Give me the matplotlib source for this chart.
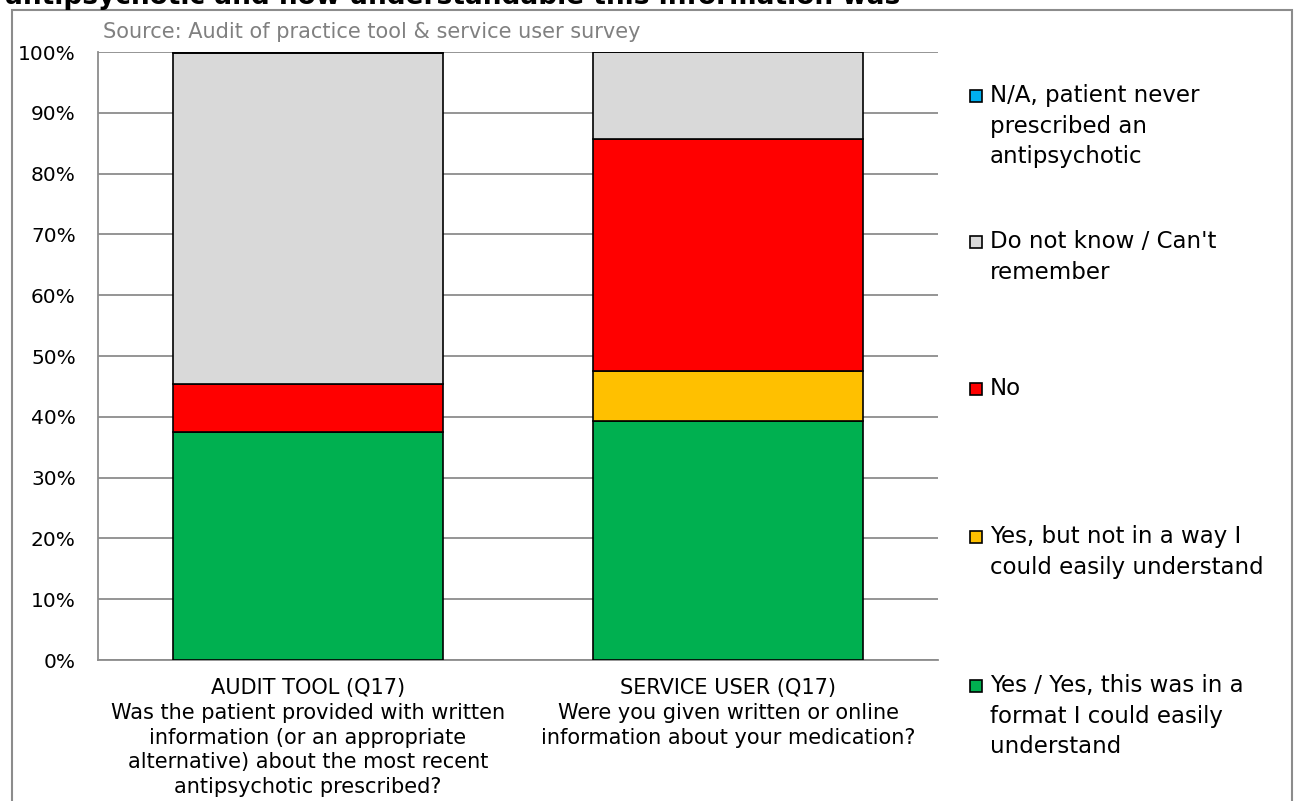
import matplotlib.pyplot as plt
import matplotlib.patches as pat
import numpy as np

# categories and series (percent of responses)
categories = ["AUDIT TOOL (Q17)\nWas the patient provided with written\ninformation (or an appropriate\nalternative) about the most recent\nantipsychotic prescribed?",
              "SERVICE USER (Q17)\nWere you given written or online\ninformation about your medication?"]
series_names = ["Yes / Yes, this was in a\nformat I could easily\nunderstand",
                "Yes, but not in a way I\ncould easily understand",
                "No",
                "Do not know / Can't\nremember",
                "N/A, patient never\nprescribed an\nantipsychotic"]
yes_vals = [37.5, 39.3]
yes_but_vals = [0.0, 8.3]
no_vals = [7.9, 38.1]
dont_know_vals = [54.4, 14.3]
na_vals = [0.2, 0.0]
colours = ["#00B050", "#FFC000", "#FF0000", "#D9D9D9", "#00B0F0"]
yticks = np.arange(0, 101, 10)

W, H = 1298, 801
fig = plt.figure(figsize=(W / 100, H / 100), dpi=100)

# outer chart frame (bottom runs off the picture)
fig.patches.append(pat.Rectangle((12 / W, -0.05), (1292 - 12) / W, 1.05 - 10 / H,
                                 transform=fig.transFigure, fill=False,
                                 edgecolor="#8c8c8c", linewidth=1.5))

# title, cut off at top like the original
fig.text(5 / W, 1 - 4 / H, "antipsychotic and how understandable this information was",
         fontsize=19, fontweight="bold", ha="left", va="baseline")

ax = fig.add_axes([98 / W, 1 - 660 / H, (938 - 98) / W, (660 - 52) / H])
x = np.arange(len(categories))
bottom = np.zeros(len(categories))
all_vals = [yes_vals, yes_but_vals, no_vals, dont_know_vals, na_vals]
for vals, col in zip(all_vals, colours):
    vals = np.array(vals)
    ax.bar(x, vals, bottom=bottom, width=0.643, color=col, edgecolor="black",
           linewidth=1.2, zorder=3)
    bottom += vals

ax.set_xlim(-0.5, 1.5)
ax.set_ylim(0, 100)
ax.set_yticks(yticks)
ax.set_yticklabels([f"{v}%" for v in yticks], fontsize=14.5)
ax.set_xticks(x)
ax.set_xticklabels(categories, fontsize=15, linespacing=1.3, va="top")
ax.tick_params(axis="both", length=0)
ax.tick_params(axis="y", pad=16)
ax.tick_params(axis="x", pad=13)
ax.yaxis.grid(True, color="#8c8c8c", linewidth=1.3, zorder=0)
for s in ["top", "right"]:
    ax.spines[s].set_visible(False)
for s in ["left", "bottom"]:
    ax.spines[s].set_color("#8c8c8c")
    ax.spines[s].set_linewidth(1.3)

fig.text(103 / W, 1 - 32 / H, "Source: Audit of practice tool & service user survey",
         fontsize=15, color="#808080", ha="left", va="center")

# legend, drawn by hand so each entry starts at an even step
legend_y = [686, 537, 389, 242, 96]
for name, col, ly in zip(series_names, colours, legend_y):
    fig.patches.append(pat.Rectangle((970 / W, 1 - (ly + 6) / H), 12 / W, 12 / H,
                                     transform=fig.transFigure, facecolor=col,
                                     edgecolor="black", linewidth=1.2))
    fig.text(990 / W, 1 - (ly - 12) / H, name, fontsize=16.5, linespacing=1.42,
             ha="left", va="top")

fig.savefig("out.png", dpi=100)
